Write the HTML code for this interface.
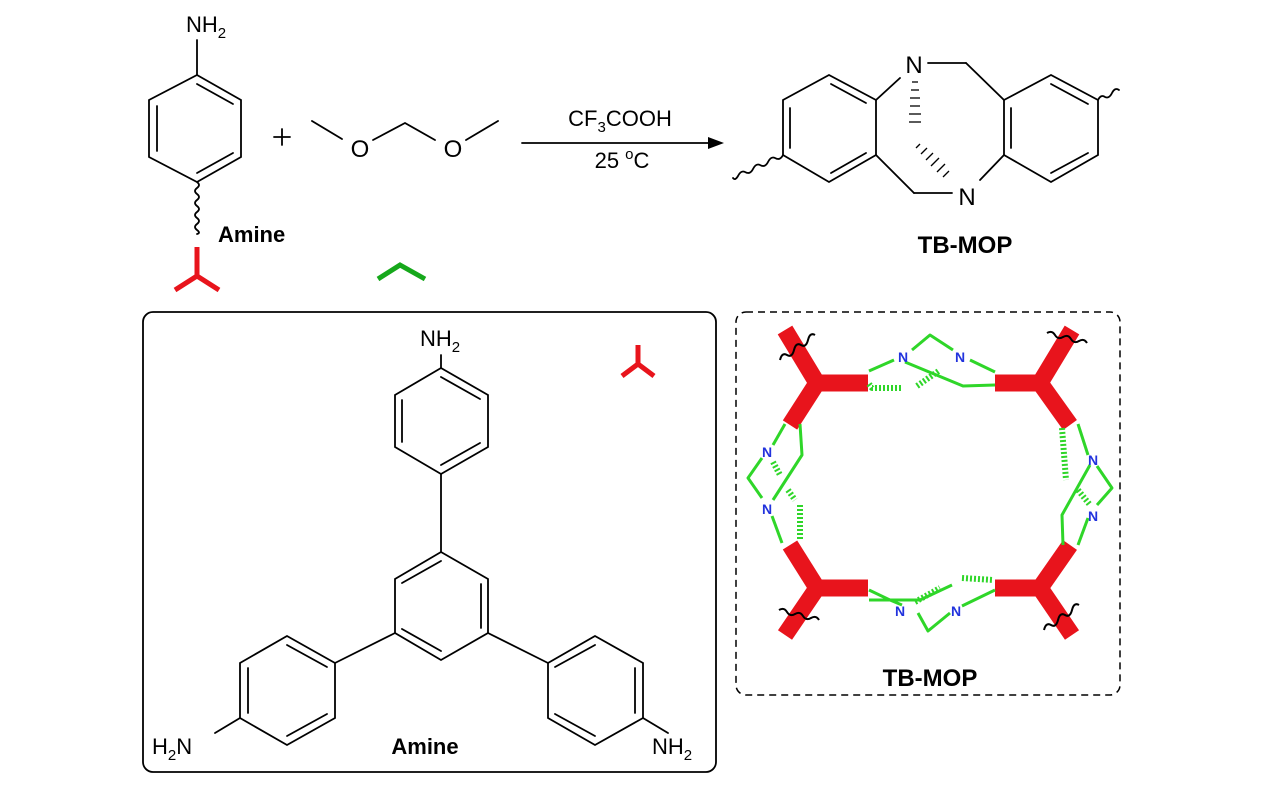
<!DOCTYPE html>
<html><head><meta charset="utf-8"><style>
html,body{margin:0;padding:0;background:#fff;}
svg{display:block;font-family:"Liberation Sans",Arial,sans-serif;}
</style></head><body>
<svg width="1276" height="787" viewBox="0 0 1276 787" xmlns="http://www.w3.org/2000/svg">
<g stroke="#000" stroke-width="1.8" fill="none" stroke-linecap="round">
<line x1="197" y1="40" x2="197" y2="75"/>
<polygon points="197,75 241,100 241,157 197,182 149,157 149,100"/>
<line x1="197" y1="84" x2="233" y2="104"/>
<line x1="157" y1="106" x2="157" y2="151"/>
<line x1="197" y1="173" x2="233" y2="153"/>
<path d="M197,182 q4,3 0,6 q-4,3 0,6 q4,3 0,6 q-4,3 0,6 q4,3 0,6 q-4,3 0,6 q4,3 0,6 q-4,3 0,6 q4,3 0,4"/>
<line x1="274" y1="137" x2="290" y2="137"/><line x1="282" y1="129" x2="282" y2="145"/>
<polyline points="312,121 342,139"/>
<polyline points="373,140 405,123 435,140"/>
<polyline points="466,140 498,121"/>
<line x1="522" y1="143" x2="712" y2="143"/>
</g>
<polygon points="724,143 708,137 708,149" fill="#000"/>
<text x="360" y="157" font-size="24" text-anchor="middle">O</text>
<text x="453" y="157" font-size="24" text-anchor="middle">O</text>
<text x="186" y="32" font-size="22">NH<tspan font-size="15" dy="6">2</tspan></text>
<text x="218" y="242" font-size="22" font-weight="bold">Amine</text>
<text x="620" y="126" font-size="22" text-anchor="middle">CF<tspan font-size="15" dy="6">3</tspan><tspan dy="-6">COOH</tspan></text>
<text x="622" y="168" font-size="22" text-anchor="middle">25 <tspan font-size="15" dy="-9">o</tspan><tspan dy="9">C</tspan></text>
<g stroke="#e8141c" stroke-width="5" fill="none">
<polyline points="197,247 197,276"/><polyline points="175,290 197,276 219,290"/>
<polyline points="638,345 638,364"/><polyline points="622,376 638,364 654,376"/>
</g>
<polyline points="378,279 400,265 425,279" stroke="#16a81b" stroke-width="5" fill="none"/>
<g stroke="#000" stroke-width="1.8" fill="none" stroke-linecap="round">
<polygon points="783,100 829,75 876,100 876,155 829,182 783,155"/>
<line x1="790" y1="108" x2="790" y2="148"/>
<line x1="831" y1="84" x2="866" y2="103"/>
<line x1="831" y1="173" x2="866" y2="153"/>
<polygon points="1004,100 1051,75 1098,100 1098,155 1051,182 1004,155"/>
<line x1="1011" y1="108" x2="1011" y2="148"/>
<line x1="1051" y1="84" x2="1088" y2="104"/>
<line x1="1051" y1="173" x2="1088" y2="153"/>
<line x1="876" y1="100" x2="900" y2="78"/>
<line x1="928" y1="63" x2="966" y2="63"/><line x1="966" y1="63" x2="1004" y2="100"/>
<line x1="876" y1="155" x2="914" y2="193"/><line x1="914" y1="193" x2="952" y2="193"/>
<line x1="980" y1="180" x2="1004" y2="155"/>
<path d="M783,155 q-3,6 -8,3 q-4,-2 -7,4 q-3,6 -8,3 q-4,-2 -7,4 q-3,6 -8,3 q-4,-2 -7,4 q-3,5 -5,2"/>
<path d="M1098,100 q3,-6 7,-3 q4,2 7,-4 q3,-6 7,-3"/>
</g>
<g stroke="#000" stroke-width="1.3">
<line x1="912" y1="82" x2="918" y2="82"/><line x1="911" y1="90" x2="919" y2="90"/>
<line x1="910" y1="98" x2="920" y2="98"/><line x1="910" y1="106" x2="920" y2="106"/>
<line x1="909" y1="114" x2="921" y2="114"/><line x1="909" y1="122" x2="921" y2="122"/>
<line x1="916" y1="148" x2="920" y2="144"/><line x1="921" y1="154" x2="927" y2="148"/>
<line x1="926" y1="160" x2="933" y2="153"/><line x1="931" y1="166" x2="939" y2="158"/>
<line x1="937" y1="172" x2="945" y2="164"/><line x1="943" y1="177" x2="949" y2="171"/>
</g>
<text x="914" y="73" font-size="24" text-anchor="middle">N</text>
<text x="967" y="205" font-size="24" text-anchor="middle">N</text>
<text x="965" y="253" font-size="24" font-weight="bold" text-anchor="middle">TB-MOP</text>
<rect x="143" y="312" width="573" height="460" rx="10" fill="none" stroke="#000" stroke-width="1.8"/>
<g stroke="#000" stroke-width="1.8" fill="none" stroke-linecap="round">
<line x1="441" y1="355" x2="441" y2="368"/>
<polygon points="441,368 488,395 488,447 441,474 395,447 395,395"/>
<line x1="441" y1="377" x2="480" y2="399"/><line x1="402" y1="400" x2="402" y2="442"/><line x1="441" y1="465" x2="480" y2="443"/>
<line x1="441" y1="474" x2="441" y2="552"/>
<polygon points="441,552 488,579 488,633 441,660 395,633 395,579"/>
<line x1="481" y1="584" x2="481" y2="628"/><line x1="441" y1="651" x2="402" y2="629"/><line x1="402" y1="583" x2="441" y2="561"/>
<line x1="395" y1="633" x2="335" y2="663"/>
<polygon points="287,636 335,663 335,718 287,745 240,718 240,663"/>
<line x1="287" y1="645" x2="327" y2="667"/><line x1="327" y1="714" x2="287" y2="736"/><line x1="248" y1="668" x2="248" y2="713"/>
<line x1="240" y1="718" x2="215" y2="733"/>
<line x1="488" y1="633" x2="548" y2="663"/>
<polygon points="595,636 643,663 643,718 595,745 548,718 548,663"/>
<line x1="595" y1="645" x2="555" y2="667"/><line x1="555" y1="714" x2="595" y2="736"/><line x1="635" y1="668" x2="635" y2="713"/>
<line x1="643" y1="718" x2="668" y2="733"/>
</g>
<text x="420" y="346" font-size="22">NH<tspan font-size="15" dy="6">2</tspan></text>
<text x="152" y="754" font-size="22">H<tspan font-size="15" dy="6">2</tspan><tspan dy="-6">N</tspan></text>
<text x="652" y="754" font-size="22">NH<tspan font-size="15" dy="6">2</tspan></text>
<text x="425" y="754" font-size="22" font-weight="bold" text-anchor="middle">Amine</text>
<rect x="736" y="312" width="384" height="383" rx="10" fill="none" stroke="#000" stroke-width="1.5" stroke-dasharray="7,5"/>
<text x="930" y="686" font-size="24" font-weight="bold" text-anchor="middle">TB-MOP</text>
<g stroke="#e8141c" stroke-width="17" fill="none" stroke-linejoin="bevel">
<polyline points="868,383 817,383 785,330"/><line x1="817" y1="383" x2="790" y2="425"/>
<polyline points="995,383 1040,383 1072,330"/><line x1="1040" y1="383" x2="1070" y2="425"/>
<polyline points="868,588 817,588 785,635"/><line x1="817" y1="588" x2="790" y2="545"/>
<polyline points="995,588 1040,588 1072,635"/><line x1="1040" y1="588" x2="1070" y2="545"/>
</g>
<g stroke="#2fd629" stroke-width="3" fill="none" stroke-linejoin="round">
<polyline points="869,371 894,360"/><polyline points="912,350 930,335 953,350"/>
<polyline points="970,360 995,372"/><polyline points="905,362 963,386 995,385"/>
<polyline points="869,384 872,388 903,388" stroke-dasharray="2,2" stroke-width="6"/>
<line x1="917" y1="386" x2="940" y2="370" stroke-dasharray="2,2" stroke-width="6"/>
<polyline points="869,600 920,600 952,585"/>
<polyline points="869,590 890,600 902,605"/><polyline points="918,613 928,631 950,613"/>
<polyline points="962,606 995,590"/>
<polyline points="962,578 993,580" stroke-dasharray="2,2" stroke-width="6"/>
<line x1="915" y1="602" x2="940" y2="588" stroke-dasharray="2,2" stroke-width="6"/>
<polyline points="785,424 773,445"/><polyline points="762,458 748,478 762,498"/>
<polyline points="772,516 782,543"/><polyline points="800,424 802,455 773,500"/>
<line x1="800" y1="505" x2="800" y2="540" stroke-dasharray="2,2" stroke-width="6"/>
<line x1="773" y1="462" x2="780" y2="475" stroke-dasharray="2,2" stroke-width="6"/>
<line x1="788" y1="490" x2="795" y2="500" stroke-dasharray="2,2" stroke-width="6"/>
<polyline points="1078,424 1088,455"/><polyline points="1097,466 1112,488 1097,505"/>
<polyline points="1088,518 1078,545"/><polyline points="1063,545 1062,515 1090,465"/>
<line x1="1062" y1="428" x2="1066" y2="480" stroke-dasharray="2,2" stroke-width="6"/>
<line x1="1078" y1="490" x2="1090" y2="505" stroke-dasharray="2,2" stroke-width="6"/>
</g>
<g fill="#2233dd" font-size="14" font-weight="bold" text-anchor="middle">
<text x="903" y="362">N</text><text x="960" y="362">N</text>
<text x="900" y="616">N</text><text x="956" y="616">N</text>
<text x="767" y="457">N</text><text x="767" y="514">N</text>
<text x="1093" y="465">N</text><text x="1093" y="521">N</text>
</g>
<g stroke="#000" stroke-width="2" fill="none">
<path d="M780,360 q2,-8 7,-5 q5,3 7,-5 q2,-8 7,-5 q5,3 7,-5 q2,-8 7,-5"/>
<path d="M1047,333 q5,-3 8,2 q3,5 8,2 q5,-3 8,2 q3,5 8,2 q5,-3 8,2"/>
<path d="M779,610 q5,-3 8,2 q3,5 8,2 q5,-3 8,2 q3,5 8,2 q5,-3 8,2"/>
<path d="M1044,630 q2,-8 7,-5 q5,3 7,-5 q2,-8 7,-5 q5,3 7,-5 q2,-8 7,-5"/>
</g>
</svg>
</body></html>
